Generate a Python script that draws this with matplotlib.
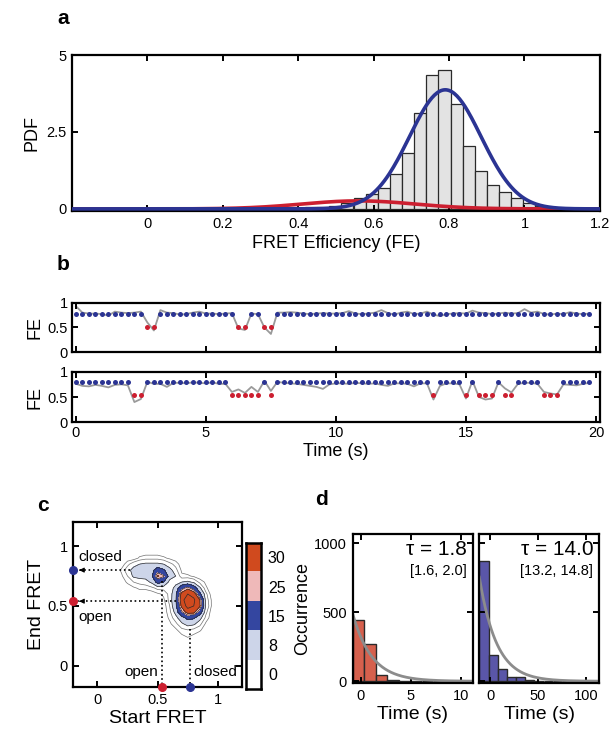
import numpy as np
import matplotlib
matplotlib.use('Agg')
import matplotlib.pyplot as plt
from matplotlib.colors import ListedColormap, BoundaryNorm

plt.rcParams['font.family'] = ['Liberation Sans', 'DejaVu Sans']
plt.rcParams['axes.linewidth'] = 1.6
plt.rcParams['xtick.direction'] = 'in'
plt.rcParams['ytick.direction'] = 'in'
plt.rcParams['xtick.top'] = True
plt.rcParams['ytick.right'] = True
plt.rcParams['xtick.major.size'] = 4
plt.rcParams['ytick.major.size'] = 4
plt.rcParams['xtick.major.width'] = 1.4
plt.rcParams['ytick.major.width'] = 1.4

BLUE = '#2b3493'
RED = '#cc1f30'

# ---- panel a: FE histogram and two gaussian fits
hist_centers = [0.402, 0.434, 0.466, 0.498, 0.530, 0.563, 0.595, 0.627, 0.659,
                0.691, 0.724, 0.756, 0.788, 0.820, 0.852, 0.885, 0.917, 0.949,
                0.981, 1.013, 1.046]
hist_pdf = [0.03, 0.05, 0.07, 0.08, 0.18, 0.34, 0.47, 0.69, 1.12,
            1.82, 3.13, 4.36, 4.53, 3.42, 2.06, 1.24, 0.78, 0.54,
            0.34, 0.20, 0.10]
hist_width = 0.0322
# gaussian fits: amplitude, mean, sigma
closed_fit = [3.87, 0.79, 0.095]
open_fit = [0.26, 0.56, 0.15]

# ---- panel b: two FE traces (frame time 0.25 s)
frame_dt = 0.25
trace1_fe = [0.93, 0.80, 0.78, 0.78, 0.77, 0.74, 0.82, 0.80, 0.79, 0.80,
             0.82, 0.60, 0.44, 0.85, 0.80, 0.79, 0.76, 0.77, 0.80, 0.82,
             0.78, 0.78, 0.77, 0.78, 0.79, 0.48, 0.45, 0.78, 0.77, 0.50,
             0.37, 0.80, 0.80, 0.81, 0.80, 0.78, 0.77, 0.78, 0.79, 0.78,
             0.78, 0.79, 0.83, 0.78, 0.77, 0.78, 0.80, 0.85, 0.79, 0.76,
             0.80, 0.82, 0.77, 0.78, 0.82, 0.76, 0.73, 0.77, 0.78, 0.79,
             0.78, 0.84, 0.80, 0.79, 0.77, 0.78, 0.80, 0.78, 0.79, 0.87,
             0.80, 0.82, 0.77, 0.76, 0.78, 0.77, 0.81, 0.78, 0.77, 0.78]
trace1_open = [11, 12, 25, 26, 29, 30]
trace1_levels = [0.77, 0.50]   # closed, open

trace2_fe = [0.76, 0.72, 0.71, 0.74, 0.72, 0.69, 0.74, 0.75, 0.73, 0.40,
             0.46, 0.80, 0.76, 0.76, 0.70, 0.78, 0.78, 0.77, 0.79, 0.78,
             0.77, 0.79, 0.76, 0.76, 0.60, 0.65, 0.58, 0.70, 0.60, 0.82,
             0.62, 0.80, 0.78, 0.77, 0.76, 0.74, 0.72, 0.70, 0.66, 0.75,
             0.77, 0.77, 0.76, 0.78, 0.77, 0.76, 0.77, 0.74, 0.72, 0.77,
             0.77, 0.76, 0.71, 0.77, 0.77, 0.45, 0.72, 0.77, 0.77, 0.75,
             0.47, 0.82, 0.50, 0.45, 0.47, 0.79, 0.67, 0.59, 0.76, 0.78,
             0.78, 0.76, 0.60, 0.57, 0.55, 0.75, 0.74, 0.73, 0.76, 0.78]
trace2_open = [9, 10, 24, 25, 26, 27, 28, 30, 55, 60, 62, 63, 64, 66, 67,
               72, 73, 74]
trace2_levels = [0.80, 0.53]

# ---- panel c: transition density (counts) on a 0.05 grid
tdp_x = [0.15, 0.20, 0.25, 0.30, 0.35, 0.40, 0.45, 0.50, 0.55, 0.60,
         0.65, 0.70, 0.75, 0.80, 0.85, 0.90, 0.95, 1.00]
tdp_y = [0.20, 0.25, 0.30, 0.35, 0.40, 0.45, 0.50, 0.55, 0.60, 0.65,
         0.70, 0.75, 0.80, 0.85, 0.90, 0.95]
tdp_counts = [
    [0, 0, 0, 0, 0, 0, 0, 0, 0, 0, 0, 0, 0, 0, 0, 0, 0, 0],
    [0, 0, 0, 0, 0, 0, 0, 0, 0, 0, 0, 1, 2, 1, 0, 0, 0, 0],
    [0, 0, 0, 0, 0, 0, 0, 0, 0, 0, 1, 3, 4, 3, 2, 0, 0, 0],
    [0, 0, 0, 0, 0, 0, 0, 0, 0, 1, 3, 7, 10, 9, 5, 1, 0, 0],
    [0, 0, 0, 0, 0, 0, 0, 0, 0, 2, 6, 12, 17, 16, 10, 3, 0, 0],
    [0, 0, 0, 0, 0, 0, 0, 0, 0, 3, 10, 24, 34, 33, 20, 5, 0, 0],
    [0, 0, 0, 0, 0, 0, 0, 0, 0, 4, 13, 32, 44, 40, 31, 7, 1, 0],
    [0, 0, 0, 0, 0, 0, 0, 0, 1, 5, 14, 36, 47, 42, 30, 6, 1, 0],
    [0, 0, 0, 0, 0, 0, 0, 1, 2, 5, 13, 33, 40, 36, 17, 5, 0, 0],
    [0, 0, 0, 1, 2, 2, 3, 5, 5, 5, 10, 22, 28, 20, 9, 2, 0, 0],
    [0, 0, 2, 4, 5, 6, 9, 18, 15, 6, 6, 8, 9, 7, 3, 1, 0, 0],
    [0, 1, 4, 9, 10, 10, 13, 31, 26, 11, 8, 2, 2, 1, 0, 0, 0, 0],
    [0, 2, 6, 10, 11, 9, 12, 20, 16, 10, 5, 1, 0, 0, 0, 0, 0, 0],
    [0, 0, 3, 6, 8, 9, 9, 9, 8, 5, 3, 0, 0, 0, 0, 0, 0, 0],
    [0, 0, 0, 0, 2, 3, 3, 3, 2, 1, 0, 0, 0, 0, 0, 0, 0, 0],
    [0, 0, 0, 0, 0, 0, 0, 0, 0, 0, 0, 0, 0, 0, 0, 0, 0, 0],
]
tdp_levels = [0, 8, 15, 25, 30, 100]
tdp_colors = ['#ffffff', '#cdd5e9', '#3446a0', '#efb9b9', '#d04a1e']
tdp_ticklabels = ['0', '8', '15', '25', '30']
open_fe = 0.54
closed_fe = [0.80, 0.77]   # end axis, start axis

# ---- panel d: dwell-time histograms
dwell_open_t = [-0.2, 0.95, 2.1, 3.25, 4.4, 5.55, 6.7, 7.85, 9.0, 10.15]
dwell_open_n = [445, 270, 45, 12, 5, 3, 2, 1, 1, 0]
dwell_open_w = 1.15
dwell_closed_t = [-6.7, 2.9, 12.5, 22.1, 31.7, 41.3, 50.9, 60.5, 70.1, 79.7,
                  89.3, 98.9, 108.5]
dwell_closed_n = [872, 191, 87, 34, 29, 10, 3, 2, 1, 1, 0, 1, 3]
dwell_closed_w = 9.6
# exponential fit as drawn: value at left edge, decay constant
open_exp = [490, 1.9]
closed_exp = [754, 18.0]

fig = plt.figure(figsize=(6.11, 7.32), dpi=100)

# ================= a
ax = fig.add_axes([0.1178, 0.7117, 0.864, 0.2131])
ax.bar(hist_centers, hist_pdf, width=hist_width, color='#e3e3e3',
       edgecolor='#2a2a2a', linewidth=0.9, zorder=1)
xx = np.linspace(-0.2, 1.2, 400)
ax.plot(xx, open_fit[0] * np.exp(-(xx - open_fit[1])**2 / (2 * open_fit[2]**2)),
        color=RED, lw=2.6, zorder=2)
ax.plot(xx, closed_fit[0] * np.exp(-(xx - closed_fit[1])**2 / (2 * closed_fit[2]**2)),
        color=BLUE, lw=2.6, zorder=3)
ax.set_xlim(-0.2, 1.2)
ax.set_ylim(-0.07, 5.0)
ax.set_xticks([0, 0.2, 0.4, 0.6, 0.8, 1.0, 1.2])
ax.set_xticklabels(['0', '0.2', '0.4', '0.6', '0.8', '1', '1.2'])
ax.set_yticks([0, 2.5, 5])
ax.set_yticklabels(['0', '2.5', '5'])
ax.tick_params(labelsize=10.5, pad=4)
ax.set_xlabel('FRET Efficiency (FE)', fontsize=13, labelpad=3)
ax.set_ylabel('PDF', fontsize=13, labelpad=4)
fig.text(0.103, 0.975, 'a', fontsize=15, fontweight='bold', ha='center', va='center')

# ================= b
t = np.arange(len(trace1_fe)) * frame_dt
for rect, fe, opens, lev, last in [
        ([0.1178, 0.5187, 0.864, 0.0678], trace1_fe, trace1_open, trace1_levels, False),
        ([0.1178, 0.4231, 0.864, 0.0691], trace2_fe, trace2_open, trace2_levels, True)]:
    ax = fig.add_axes(rect)
    ax.plot(t, fe, color='#9a9a9a', lw=1.3, zorder=1)
    is_open = np.isin(np.arange(len(fe)), opens)
    ax.plot(t[~is_open], np.full((~is_open).sum(), lev[0]), 'o', color=BLUE,
            ms=3.6, mec='none', zorder=2)
    ax.plot(t[is_open], np.full(is_open.sum(), lev[1]), 'o', color=RED,
            ms=3.6, mec='none', zorder=2)
    ax.set_xlim(-0.15, 20.15)
    ax.set_ylim(0, 1)
    ax.set_xticks([0, 5, 10, 15, 20])
    ax.set_yticks([0, 0.5, 1])
    ax.set_yticklabels(['0', '0.5', '1'])
    ax.tick_params(labelsize=10.5, pad=3)
    ax.set_ylabel('FE', fontsize=13, labelpad=3)
    if last:
        ax.set_xlabel('Time (s)', fontsize=13, labelpad=2)
    else:
        ax.set_xticklabels([])
fig.text(0.103, 0.638, 'b', fontsize=15, fontweight='bold', ha='center', va='center')

# ================= c
ax = fig.add_axes([0.120, 0.0611, 0.276, 0.2254])
cmap = ListedColormap(tdp_colors)
norm = BoundaryNorm(tdp_levels, cmap.N)
Z = np.array(tdp_counts, dtype=float)
ax.contourf(tdp_x, tdp_y, Z, levels=tdp_levels, cmap=cmap, norm=norm)
ax.contour(tdp_x, tdp_y, Z, levels=[1.5, 4], colors='#707070', linewidths=0.5)
ax.contour(tdp_x, tdp_y, Z, levels=[8, 15, 25, 30, 40], colors='#2a2a2a',
           linewidths=0.5)
ax.set_xlim(-0.2, 1.2)
ax.set_ylim(-0.18, 1.2)
ax.set_xticks([0, 0.5, 1])
ax.set_xticklabels(['0', '0.5', '1'])
ax.set_yticks([0, 0.5, 1])
ax.set_yticklabels(['0', '0.5', '1'])
ax.tick_params(labelsize=10.5, pad=4)
ax.set_xlabel('Start FRET', fontsize=14, labelpad=2)
ax.set_ylabel('End FRET', fontsize=14, labelpad=2)

dots = ':'
ax.plot([0.27, -0.16], [closed_fe[0], closed_fe[0]], color='k', ls=dots, lw=1.2)
ax.plot([0.65, -0.16], [open_fe, open_fe], color='k', ls=dots, lw=1.2)
for yv in [closed_fe[0], open_fe]:
    ax.annotate('', xy=(-0.175, yv), xytext=(-0.12, yv),
                arrowprops=dict(arrowstyle='-|>', color='k', lw=0.8, mutation_scale=7))
ax.plot([open_fe, open_fe], [0.71, -0.18], color='k', ls=dots, lw=1.2)
ax.plot([closed_fe[1], closed_fe[1]], [0.31, -0.18], color='k', ls=dots, lw=1.2)
ax.plot([-0.2], [closed_fe[0]], 'o', color=BLUE, ms=5.5, clip_on=False, zorder=5)
ax.plot([-0.2], [open_fe], 'o', color=RED, ms=5.5, clip_on=False, zorder=5)
ax.plot([open_fe], [-0.18], 'o', color=RED, ms=5.5, clip_on=False, zorder=5)
ax.plot([closed_fe[1]], [-0.18], 'o', color=BLUE, ms=5.5, clip_on=False, zorder=5)
ax.text(-0.16, 0.91, 'closed', fontsize=11, ha='left', va='center')
ax.text(-0.16, 0.41, 'open', fontsize=11, ha='left', va='center')
ax.text(0.50, -0.05, 'open', fontsize=11, ha='right', va='center')
ax.text(0.80, -0.05, 'closed', fontsize=11, ha='left', va='center')
fig.text(0.070, 0.310, 'c', fontsize=15, fontweight='bold', ha='center', va='center')

# colorbar with five equal boxes
cax = fig.add_axes([0.4026, 0.0587, 0.0245, 0.1999])
cax.imshow(np.arange(5).reshape(-1, 1), cmap=cmap, origin='lower',
           aspect='auto', extent=(0, 1, 0, 5))
cax.set_xticks([])
cax.set_yticks(np.arange(5) + 0.5)
cax.set_yticklabels(tdp_ticklabels)
cax.yaxis.tick_right()
cax.tick_params(axis='y', length=0, labelsize=11.5, pad=5, left=False, right=False)
for s in cax.spines.values():
    s.set_linewidth(1.8)

# ================= d
for rect, tc, nc, w, fit, col, xl, xt, tau, ci, first in [
        ([0.5772, 0.0665, 0.1964, 0.2036], dwell_open_t, dwell_open_n, dwell_open_w,
         open_exp, '#d6604d', (-0.8, 11.2), [0, 5, 10], '1.8', '[1.6, 2.0]', True),
        ([0.7845, 0.0665, 0.1964, 0.2036], dwell_closed_t, dwell_closed_n, dwell_closed_w,
         closed_exp, '#5a56a8', (-11.5, 114), [0, 50, 100], '14.0', '[13.2, 14.8]', False)]:
    ax = fig.add_axes(rect)
    ax.bar(tc, nc, width=w, color=col, edgecolor='#2a2a2a', linewidth=1.0, zorder=1)
    tt = np.linspace(xl[0], xl[1], 300)
    ax.plot(tt, fit[0] * np.exp(-(tt - xl[0]) / fit[1]), color='#8c8c8c', lw=2.0, zorder=2)
    ax.set_xlim(*xl)
    ax.set_ylim(-15, 1065)
    ax.set_xticks(xt)
    ax.set_yticks([0, 500, 1000])
    ax.tick_params(labelsize=10.5, pad=4)
    ax.set_xlabel('Time (s)', fontsize=14, labelpad=2)
    if first:
        ax.set_ylabel('Occurrence', fontsize=13, labelpad=2)
    else:
        ax.set_yticklabels([])
    ax.text(0.95, 0.895, '\u03c4 = ' + tau, transform=ax.transAxes, fontsize=15,
            ha='right', va='center')
    ax.text(0.95, 0.756, ci, transform=ax.transAxes, fontsize=10.5,
            ha='right', va='center')
fig.text(0.526, 0.318, 'd', fontsize=15, fontweight='bold', ha='center', va='center')

fig.savefig('out.png', dpi=100)
